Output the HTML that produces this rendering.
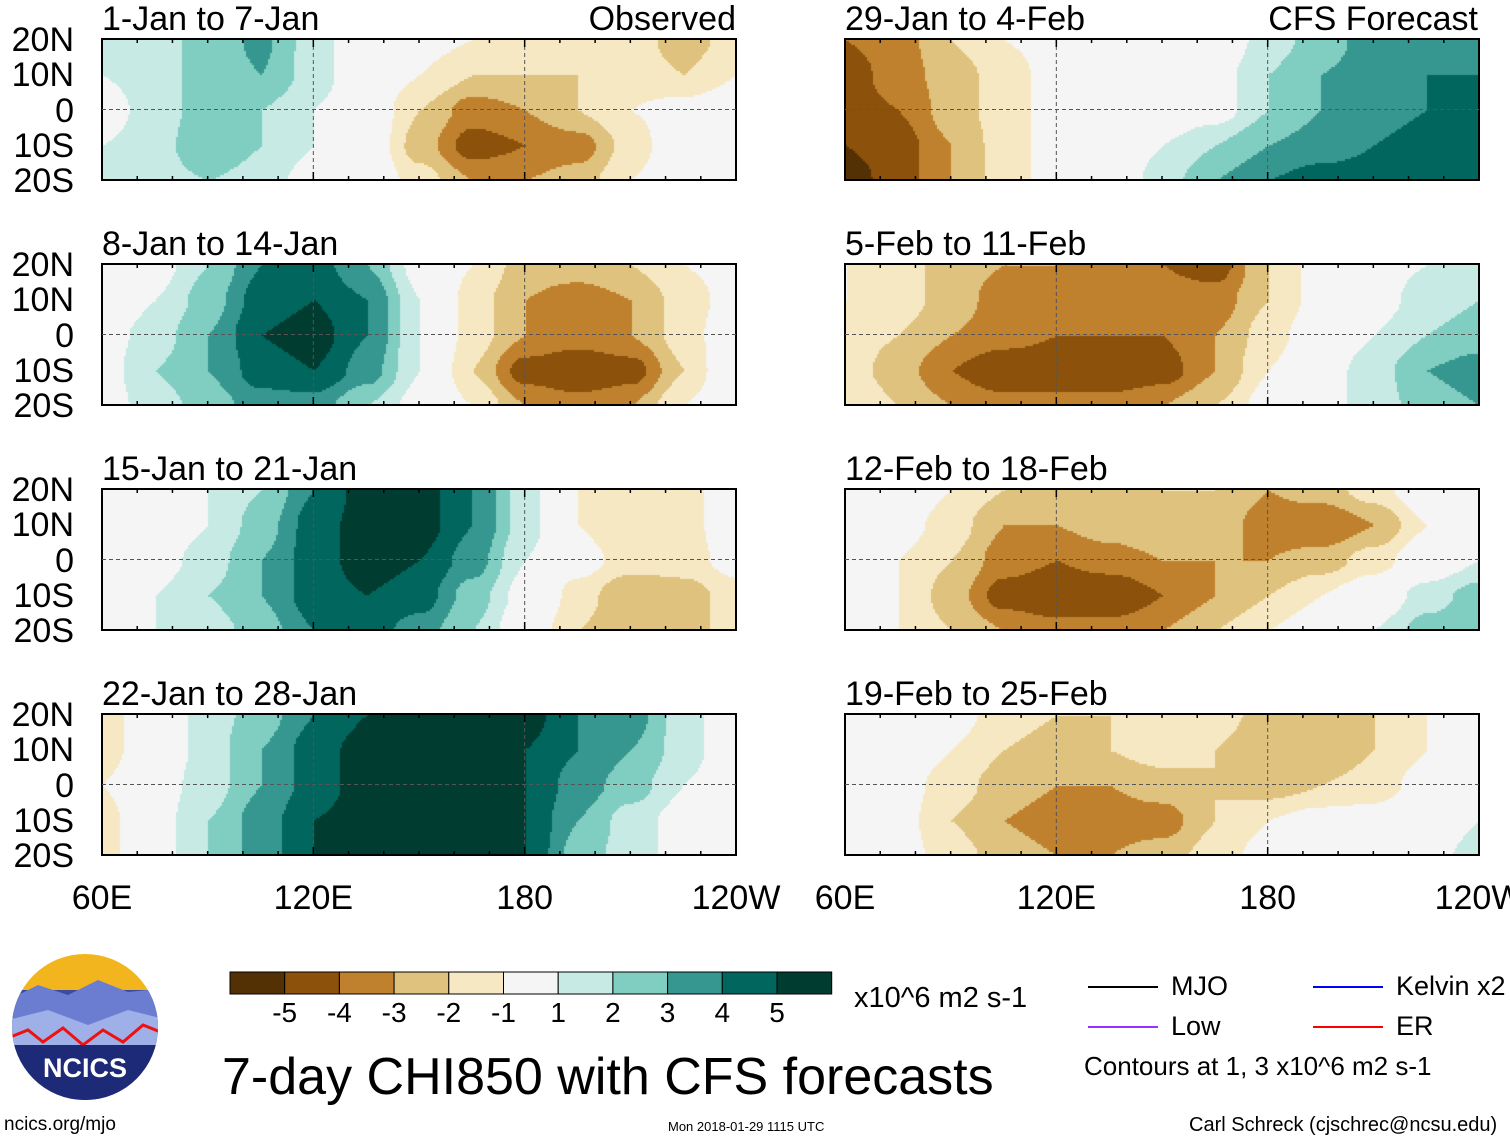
<!DOCTYPE html>
<html><head><meta charset="utf-8"><style>
body{margin:0;background:#fff;width:1510px;height:1142px;position:relative;overflow:hidden;font-family:"Liberation Sans",sans-serif;color:#000}
.t{position:absolute;white-space:nowrap;line-height:1}
canvas{position:absolute}
</style></head><body>
<div id="root"></div>
<svg id="ov" width="1510" height="1142" style="position:absolute;left:0;top:0"></svg>
<script>
// Data: CHI850 anomaly grids; rows 20N,10N,0,10S,20S; cols lon 60E..120W every 15 deg
const lons=[60,75,90,105,120,135,150,165,180,195,210,225,240];
const lats=[20,10,0,-10,-20];
const titles=["1-Jan to 7-Jan","8-Jan to 14-Jan","15-Jan to 21-Jan","22-Jan to 28-Jan","29-Jan to 4-Feb","5-Feb to 11-Feb","12-Feb to 18-Feb","19-Feb to 25-Feb"];
const p1=[[1,1.5,2.5,3.2,1.5,0,-0.5,-1,-1.5,-1.5,-1.5,-2.5,-1.5],[1,1.5,2.5,3,1.5,0,-1,-2,-2,-2,-1.5,-2,-1],[0.5,1.5,2.5,2,1,0,-2,-3.5,-3,-2,-1,-0.5,0],[1,1.5,3,2,1,0,-2.5,-4.5,-4,-3.5,-1.5,0,0],[1,1.5,2,1.5,0.5,0,-1.5,-3,-3,-2.5,-1,0,0]];
const p2=[[0,0.5,2,4,4.5,3,0.5,-1,-2.5,-2.5,-2,-1,-0.5],[0,1,2.5,4.5,5,4,1,-1.5,-3,-3.5,-3,-1.5,-0.5],[0.5,1.5,3,5,5.5,4,1,-1.5,-3,-3.5,-3,-1.5,0],[0.5,2,3,4.5,5,3.5,1,-2,-4.5,-5,-4.5,-2,0.5],[0.5,1.5,2.5,3.5,3.5,2,0.5,-1,-3,-3.5,-3,-1,0.5]];
const p3=[[0,0,1,2,4,5.5,5.5,4,1.5,-1,-2,-1.5,0],[0,0,1,2.5,4.5,5.5,5.5,4,1.5,-1,-2,-1.5,0],[0,0.5,1.5,3,4.5,5.5,5,3.5,1,-0.5,-1.5,-1.5,-0.5],[0,1,2,3,4.5,5,4.5,2.5,0.5,-1.5,-3,-2.5,-1.5],[0,1,1.5,2.5,4,4.5,3.5,2,0,-2,-3,-2.5,-1.5]];
const p4=[[-1.5,0,1.5,2.5,4,5,5.5,6,5.5,4,3.5,1.5,0],[-1.5,0,1.5,3,4.5,5.5,6,6,5,4,3,1.5,0],[-1,0.5,1.5,3,4.5,5.5,6,6,5,3.5,2.5,1,0],[-1.5,0.5,2,3.5,5,5.5,6,6,5,3,1.5,0.5,0],[-1.5,0.5,2,3.5,5,5.5,6,6,5,2.5,1.5,0.5,0]];
const p5=[[-4,-3.5,-2,-1,-0.5,0,0,0,1.5,2.5,3.5,3.5,3.5],[-4.5,-3.5,-2.5,-1.5,-0.5,0,0,0.5,2,3,3.5,4,4],[-4.5,-4,-2.5,-1.5,-0.5,0,0,0.5,2,3,3.5,4,4],[-5,-4.5,-3,-1.5,-0.5,0,1,2,3,3.5,4,4.5,4.5],[-5.5,-4.5,-3,-1.5,-0.5,0,1.5,3,4,4.5,4.5,4.5,4.5]];
const p6=[[-1,-1.5,-2.5,-3,-3,-3.5,-4,-4.5,-2,-0.5,0.5,1,2],[-1,-1.5,-2.5,-3.5,-3.5,-3.5,-3.5,-3.5,-2,-0.5,0.5,1.5,2],[-1.5,-2,-3,-3.5,-4,-4,-4,-3,-1.5,0,1,2,2.5],[-1.5,-2.5,-4,-5,-5,-5,-4.5,-3,-1,0.5,1.5,3,3.5],[-1,-2,-3,-3.5,-3.5,-3.5,-3,-2,-0.5,0.5,1.5,2.5,3]];
const p7=[[0,0,-1,-2,-2.5,-2.5,-2,-2,-3,-2.5,-1.5,0,1],[0,-0.5,-1.5,-3,-3,-2.5,-2,-2.5,-3.5,-4,-3,-1,0.5],[-0.5,-1,-2,-3.5,-4,-3.5,-3,-3,-3,-2.5,-1.5,0,1],[-0.5,-1,-2.5,-4.5,-5,-5,-4,-3,-2,-1,0,1.5,2.5],[-0.5,-1,-2,-3,-3.5,-3.5,-3,-2,-1,0,1,2.5,3]];
const p8=[[0,0,-0.5,-1.5,-2,-2,-1.5,-1.5,-2.5,-2.5,-2,-1,0],[0,0,-1,-2,-2.5,-2,-1.5,-2,-3,-3,-2,-1,0],[0,-0.5,-1.5,-2.5,-3,-3,-2.5,-2,-2.5,-2,-1.5,-0.5,0],[0,-0.5,-2,-3,-3.5,-3.5,-3.5,-2,-1,-0.5,-0.5,0,1],[0,-0.5,-1.5,-2.5,-3,-3,-2.5,-1.5,-0.5,0,0,0.5,1.5]];
const grids=[p1,p2,p3,p4,p5,p6,p7,p8];
const levels=[-5,-4,-3,-2,-1,1,2,3,4,5];
const cbLabels=["-5","-4","-3","-2","-1","1","2","3","4","5"];
const xTicks=["60E","120E","180","120W"];
const yTicks=["20N","10N","0","10S","20S"];

const colors=["#543005","#8c510a","#bf812d","#dfc27d","#f6e8c3","#f5f5f5","#c7eae5","#80cdc1","#35978f","#01665e","#003c30"];
const PW=634,PH=141,colX=[102,845],rowY=[39,264,489,714];
const xs=lon=>(lon-60)/180*PW, ys=lat=>(20-lat)/40*PH;
function colorFor(v){let i=0;while(i<levels.length&&v>=levels[i])i++;return colors[i];}
function val(g,lon,lat){
 let fx=(lon-60)/15, fy=(20-lat)/10;
 let i=Math.min(11,Math.floor(fx)), j=Math.min(3,Math.floor(fy));
 let tx=fx-i, ty=fy-j;
 tx=tx*tx*(3-2*tx); ty=ty*ty*(3-2*ty);
 return (g[j][i]*(1-tx)+g[j][i+1]*tx)*(1-ty)+(g[j+1][i]*(1-tx)+g[j+1][i+1]*tx)*ty;
}
const root=document.getElementById('root');
const ov=document.getElementById('ov');
const NS="http://www.w3.org/2000/svg";
function txt(s,x,y,size,name,anchor){const d=document.createElement('div');d.className='t';d.textContent=s;d.style.left=x+'px';d.style.top=y+'px';d.style.fontSize=size+'px';if(anchor)d.style.transform='translateX(-'+anchor+')';


root.appendChild(d);return d;}
function line(x1,y1,x2,y2,st,w,dash,name){const l=document.createElementNS(NS,'line');l.setAttribute('x1',x1);l.setAttribute('y1',y1);l.setAttribute('x2',x2);l.setAttribute('y2',y2);l.setAttribute('stroke',st);l.setAttribute('stroke-width',w);if(dash)l.setAttribute('stroke-dasharray',dash);


ov.appendChild(l);}
grids.forEach((g,k)=>{
 const c=k<4?0:1,r=k%4,X=colX[c],Y=rowY[r];
 const cv=document.createElement('canvas');cv.width=PW;cv.height=PH;cv.style.left=X+'px';cv.style.top=Y+'px';
 
 
 root.appendChild(cv);
 const ctx=cv.getContext('2d');
 for(let px=0;px<PW;px+=2)for(let py=0;py<PH;py+=2){
  const lon=60+px/PW*180, lat=20-py/PH*40;
  ctx.fillStyle=colorFor(val(g,lon,lat));ctx.fillRect(px,py,2,2);
 }
 const rc=document.createElementNS(NS,'rect');rc.setAttribute('x',X);rc.setAttribute('y',Y);rc.setAttribute('width',PW);rc.setAttribute('height',PH);rc.setAttribute('fill','none');rc.setAttribute('stroke','#000');rc.setAttribute('stroke-width',2);
 
 
 ov.appendChild(rc);
 line(X,Y+ys(0),X+PW,Y+ys(0),'#555',1,'4,3','equator-line');
 [120,180].forEach(l=>line(X+xs(l),Y,X+xs(l),Y+PH,'#555',1,'4,3','meridian-line'));
 for(let l=60;l<=240;l+=10){line(X+xs(l),Y,X+xs(l),Y+(l%60?4:8),'#000',1.5,null,'tick');line(X+xs(l),Y+PH,X+xs(l),Y+PH-(l%60?4:8),'#000',1.5,null,'tick');}
 txt(titles[k],X,Y-37,34,'panel-title');
 if(c===0) yTicks.forEach((t,i)=>txt(t,74,Y+ys(lats[i])-16,34,'y-tick-label','100%'));
});
txt("Observed",736,2,34,'observed-label','100%');
txt("CFS Forecast",1478,2,34,'forecast-label','100%');
[0,1].forEach(c=>xTicks.forEach((t,i)=>txt(t,colX[c]+xs(60+i*60),881,34,'x-tick-label','50%')));
colors.forEach((cl,i)=>{const r=document.createElementNS(NS,'rect');r.setAttribute('x',230+i*54.7);r.setAttribute('y',972);r.setAttribute('width',54.7);r.setAttribute('height',22);r.setAttribute('fill',cl);r.setAttribute('stroke','#000');


ov.appendChild(r);});
cbLabels.forEach((t,i)=>txt(t,230+(i+1)*54.7,999,28,'colorbar-label','50%'));
txt("x10^6 m2 s-1",854,984,29,'units-label');
txt("7-day CHI850 with CFS forecasts",222,1051,52,'main-title');
[["MJO","#000",1088,987],["Low","#9b30ff",1088,1027],["Kelvin x2","#0000ff",1313,987],["ER","#ff0000",1313,1027]].forEach(e=>{line(e[2],e[3],e[2]+70,e[3],e[1],2,null,'legend-line-'+e[0]);txt(e[0],e[2]+83,e[3]-14,27,'legend-entry');});
txt("Contours at 1, 3 x10^6 m2 s-1",1084,1053,26,'contour-note');
txt("ncics.org/mjo",4,1115,19,'source-url');
txt("Mon 2018-01-29 1115 UTC",668,1120,13,'timestamp');
txt("Carl Schreck (cjschrec@ncsu.edu)",1189,1115,20,'author-credit');
</script>
<svg width="160" height="160" style="position:absolute;top:950px;left:8px">
<defs><clipPath id="cc"><circle cx="77" cy="77" r="73"/></clipPath></defs>
<g clip-path="url(#cc)">
<rect width="160" height="160" fill="#f3b51d"/>
<rect y="40" width="160" height="120" fill="#3d4aa0"/>
<path d="M0 50 L30 35 L60 45 L90 30 L120 42 L160 38 L160 80 L0 80Z" fill="#6a7dd0"/>
<path d="M0 70 L40 60 L80 75 L120 60 L160 70 L160 95 L0 95Z" fill="#9fb0e8"/>
<path d="M0 88 L20 80 L35 92 L55 78 L75 95 L95 80 L115 92 L135 75 L160 85" stroke="#e11" stroke-width="3" fill="none"/>
<rect y="95" width="160" height="70" fill="#1c2a78"/>
</g>
<text x="77" y="127" text-anchor="middle" font-family="Liberation Sans" font-weight="bold" font-size="27" fill="#fff">NCICS</text>
</svg>
</body></html>
